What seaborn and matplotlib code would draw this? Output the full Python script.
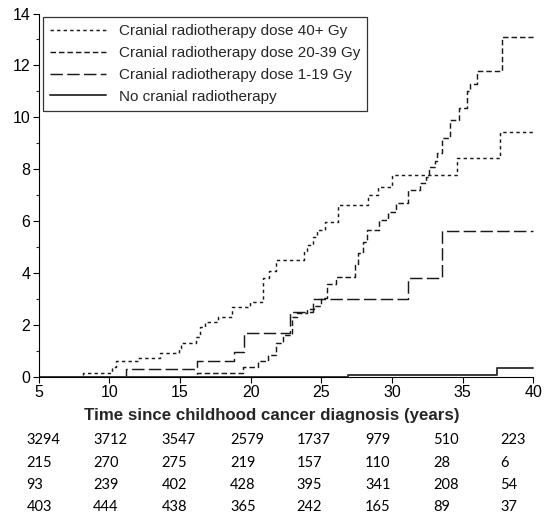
import matplotlib
matplotlib.use("Agg")
import matplotlib.pyplot as plt
import seaborn as sns
import numpy as np
from matplotlib.ticker import MultipleLocator

# ---- data (step functions: time since diagnosis, cumulative incidence %) ----
t_40 = [5, 8.15, 10.2, 10.5, 12.0, 13.6, 14.9, 15.1, 16.1, 16.4, 16.8, 17.7, 18.65, 19.95,
        20.9, 21.3, 21.8, 23.8, 24.0, 24.4, 24.7, 25.25, 26.2, 28.3, 29.0, 30.0, 34.56, 37.6, 40]
y_40 = [0, 0.17, 0.4, 0.6, 0.75, 0.94, 1.12, 1.32, 1.54, 1.94, 2.13, 2.3, 2.71, 2.9,
        3.8, 4.1, 4.5, 4.85, 5.1, 5.4, 5.66, 5.98, 6.63, 7.0, 7.33, 7.78, 8.45, 9.42, 9.42]

t_20 = [5, 16.2, 19.45, 20.5, 21.2, 21.8, 22.3, 22.9, 23.25, 24.0, 24.5, 25.0, 25.4, 26.0,
        27.4, 27.6, 27.96, 28.2, 29.1, 29.7, 30.3, 31.1, 32.0, 32.4, 32.6, 33.0, 33.2, 33.5,
        34.1, 34.7, 35.3, 35.5, 36.0, 37.75, 40]
y_20 = [0, 0.17, 0.4, 0.63, 0.85, 1.3, 1.62, 2.3, 2.45, 2.6, 2.75, 3.03, 3.6, 3.86,
        4.3, 4.76, 5.2, 5.66, 6.05, 6.37, 6.69, 7.2, 7.46, 7.72, 8.1, 8.3, 8.62, 9.19,
        9.9, 10.35, 11.0, 11.3, 11.78, 13.1, 13.1]

t_1 = [5, 11.2, 16.2, 18.8, 19.5, 22.8, 24.4, 31.1, 33.5, 40]
y_1 = [0, 0.3, 0.63, 0.97, 1.68, 2.52, 3.0, 3.83, 5.62, 5.62]

t_0 = [5, 26.9, 37.4, 40]
y_0 = [0, 0.06, 0.33, 0.33]

labels = ["Cranial radiotherapy dose 40+ Gy",
          "Cranial radiotherapy dose 20-39 Gy",
          "Cranial radiotherapy dose 1-19 Gy",
          "No cranial radiotherapy"]

xticks = [5, 10, 15, 20, 25, 30, 35, 40]
yticks = [0, 2, 4, 6, 8, 10, 12, 14]

risk_row1 = [3294, 3712, 3547, 2579, 1737, 979, 510, 223]
risk_row2 = [215, 270, 275, 219, 157, 110, 28, 6]
risk_row3 = [93, 239, 402, 428, 395, 341, 208, 54]
risk_row4 = [403, 444, 438, 365, 242, 165, 89, 37]

# ---- figure ----
sns.set_style("ticks")
plt.rcParams["font.family"] = ["Liberation Sans", "DejaVu Sans"]

W, H = 546, 519
fig = plt.figure(figsize=(W / 100, H / 100), dpi=100)
ax_l, ax_r, ax_t, ax_b = 38.6, 533.5, 13.5, 377.0
ax = fig.add_axes([ax_l / W, 1 - ax_b / H, (ax_r - ax_l) / W, (ax_b - ax_t) / H])

series = [
    (t_40, y_40, (0, (2.3, 2.2)), "#1a1a1a", 1.05),
    (t_20, y_20, (0, (3.8, 2.0)), "#1a1a1a", 1.05),
    (t_1, y_1, (0, (8.5, 3.0)), "#1a1a1a", 1.05),
    (t_0, y_0, "-", "#3a3a3a", 1.4),
]
for (t, y, ls, c, lw), lab in zip(series, labels):
    sns.lineplot(x=t, y=y, ax=ax, drawstyle="steps-post", linestyle=ls, color=c,
                 linewidth=lw, label=lab, estimator=None, sort=False)

ax.set_xlim(5, 40)
ax.set_ylim(0, 14)
ax.set_xticks(xticks)
ax.set_yticks(yticks)
ax.yaxis.set_minor_locator(MultipleLocator(1))
ax.tick_params(axis="both", which="major", length=4, width=0.8, direction="out",
               labelsize=11.5, colors="black", pad=2)
ax.tick_params(axis="y", which="minor", length=2.5, width=0.8, direction="out")
sns.despine(ax=ax)
for s in ["left", "bottom"]:
    ax.spines[s].set_linewidth(0.8)
    ax.spines[s].set_color("black")
ax.set_xlabel("Time since childhood cancer diagnosis (years)", fontsize=12.2,
              fontweight="bold")
ax.xaxis.set_label_coords((272 - ax_l) / (ax_r - ax_l), (ax_b - 408) / (ax_b - ax_t))
ax.set_ylabel("")

leg = ax.legend(loc="upper left", bbox_to_anchor=(0.009, 0.99), borderaxespad=0,
                frameon=True, fancybox=False, edgecolor="black", fontsize=11,
                handlelength=3.7, handletextpad=0.8, labelspacing=0.52,
                borderpad=0.45)
leg.get_frame().set_linewidth(0.9)

# ---- risk table ----
col_x = [26.7, 93.3, 161.7, 230, 296.7, 365, 433.3, 500]
row_y = [440, 463, 485, 507]
for row, ypx in zip([risk_row1, risk_row2, risk_row3, risk_row4], row_y):
    for v, xpx in zip(row, col_x):
        fig.text(xpx / W, 1 - ypx / H, str(v), ha="left", va="center",
                 fontsize=10.5, family=["Lato", "DejaVu Sans"], color="black")

fig.savefig("out.png", dpi=100)
